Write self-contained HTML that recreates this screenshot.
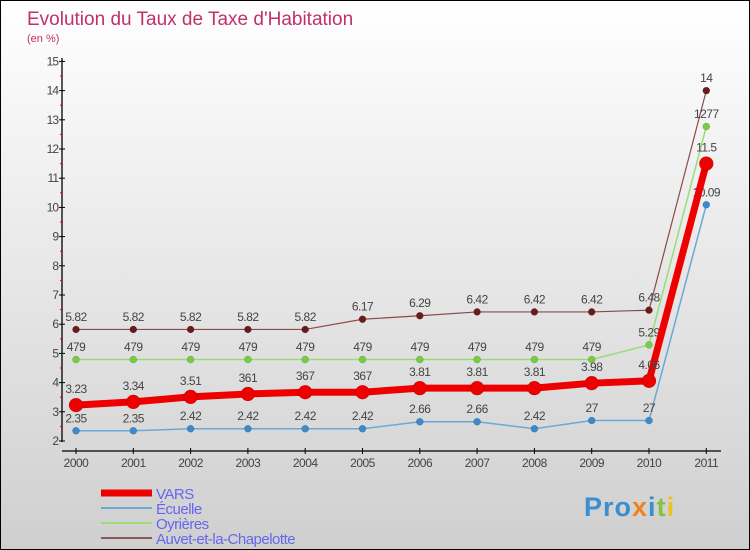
<!DOCTYPE html>
<html><head><meta charset="utf-8"><style>
body{margin:0}
#c{width:748px;height:548px;border:1px solid #000;background:linear-gradient(#fff,#cfcfcf);position:relative;font-family:"Liberation Sans",sans-serif;overflow:hidden}
</style></head><body>
<div id="c">
<svg id="s" width="748" height="548" xmlns="http://www.w3.org/2000/svg">
<text x="26" y="24" font-size="19" fill="#c0306a">Evolution du Taux de Taxe d'Habitation</text>
<text x="26" y="41" font-size="11" fill="#c0306a">(en %)</text>
<g id="g"></g>
<text x="583" y="515" font-size="27" font-weight="bold" fill="#3a8fd0" letter-spacing="1">Pro<tspan fill="#f08020">x</tspan><tspan fill="#3a8fd0">i</tspan><tspan fill="#88c040">t</tspan><tspan fill="#f0c020">i</tspan></text>
</svg></div>
<script>
const years=["2000","2001","2002","2003","2004","2005","2006","2007","2008","2009","2010","2011"];
const yTicks=[2,3,4,5,6,7,8,9,10,11,12,13,14,15];
const vars=[3.23,3.34,3.51,3.61,3.67,3.67,3.81,3.81,3.81,3.98,4.06,11.5];
const varsLabels=["3.23","3.34","3.51","361","367","367","3.81","3.81","3.81","3.98","4.06","11.5"];
const ecuelle=[2.35,2.35,2.42,2.42,2.42,2.42,2.66,2.66,2.42,2.7,2.7,10.09];
const ecuelleLabels=["2.35","2.35","2.42","2.42","2.42","2.42","2.66","2.66","2.42","27","27","10.09"];
const oyrieres=[4.79,4.79,4.79,4.79,4.79,4.79,4.79,4.79,4.79,4.79,5.29,12.77];
const oyrieresLabels=["479","479","479","479","479","479","479","479","479","479","5.29","1277"];
const auvet=[5.82,5.82,5.82,5.82,5.82,6.17,6.29,6.42,6.42,6.42,6.48,14];
const auvetLabels=["5.82","5.82","5.82","5.82","5.82","6.17","6.29","6.42","6.42","6.42","6.48","14"];
const NS="http://www.w3.org/2000/svg",g=document.getElementById('g');
const X=i=>75+i*57.3, Y=v=>440-(v-2)*29.2;
function el(t,a,p){const e=document.createElementNS(NS,t);for(const k in a)e.setAttribute(k,a[k]);(p||g).appendChild(e);return e;}
let ax=el('line',{x1:61,y1:57,x2:61,y2:441,stroke:'#000','stroke-width':1.3});


let xx=el('line',{x1:61,y1:450,x2:720,y2:450,stroke:'#000','stroke-width':1.3});


yTicks.forEach(v=>{
 el('line',{x1:58,x2:64,y1:Y(v),y2:Y(v),stroke:'#000'});
 if(v<15)el('line',{x1:59,x2:62,y1:Y(v+0.5),y2:Y(v+0.5),stroke:'#e00'});
 const t=el('text',{x:57,y:Y(v)+4,'text-anchor':'end','font-size':12,fill:'#444','letter-spacing':'-1'});t.textContent=v;
 
 
});
years.forEach((y,i)=>{
 el('line',{x1:X(i),x2:X(i),y1:447,y2:453,stroke:'#000'});
 const t=el('text',{x:X(i),y:466,'text-anchor':'middle','font-size':12,fill:'#444','letter-spacing':'-0.5'});t.textContent=y;
 
 
});
function series(vals,labs,col,dot,w,r,name){
 const p=el('polyline',{points:vals.map((v,i)=>X(i)+','+Y(v)).join(' '),fill:'none',stroke:col,'stroke-width':w});
 
 
 vals.forEach((v,i)=>{
  const c=el('circle',{cx:X(i),cy:Y(v),r:r,fill:dot,stroke:'rgba(0,0,0,0.25)','stroke-width':0.5});
  
  
  const t=el('text',{x:X(i),y:Y(v)-(r+5),'text-anchor':'middle','font-size':12,fill:'#444','letter-spacing':'-0.5'});t.textContent=labs[i];
  
  
 });
}
series(auvet,auvetLabels,'#8a4a4a','#6b1a1a',1.2,3.5,'auvet');
series(oyrieres,oyrieresLabels,'#99dd77','#77cc44',1.5,3.5,'oyrieres');
series(ecuelle,ecuelleLabels,'#6aa8d8','#3a8acc',1.5,3.5,'ecuelle');
series(vars,varsLabels,'#ee0000','#ee0000',7,7,'vars');
const leg=[["VARS","#ee0000",7],["Écuelle","#6aa8d8",2],["Oyrières","#99dd77",2],["Auvet-et-la-Chapelotte","#8a5a5a",2]];
leg.forEach((l,i)=>{
 const y=492+i*15;
 const ln=el('line',{x1:100,x2:151,y1:y,y2:y,stroke:l[1],'stroke-width':l[2]});
 
 
 const t=el('text',{x:155,y:y+6,'font-size':15,fill:'#6666ee','letter-spacing':'-0.5'});t.textContent=l[0];
 
 
});
</script></body></html>
